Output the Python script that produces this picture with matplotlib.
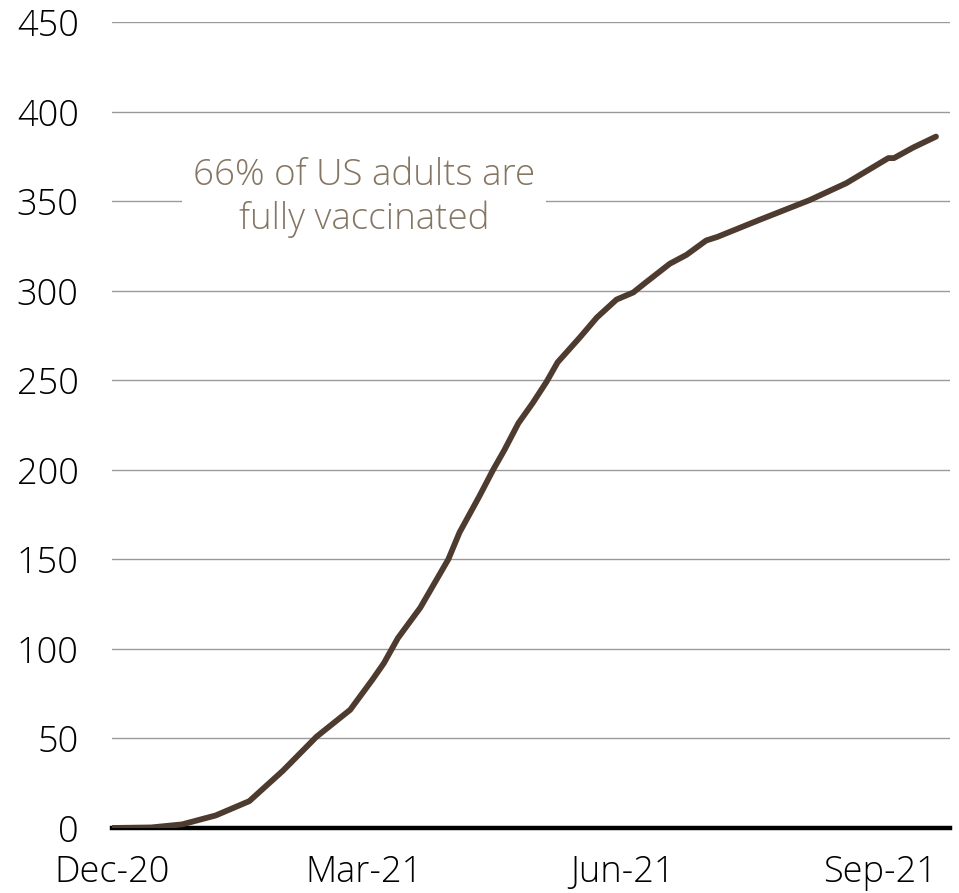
import matplotlib
matplotlib.use("Agg")
import matplotlib.pyplot as plt
import matplotlib.dates as mdates
import pandas as pd

plt.rcParams["font.family"] = ["Open Sans", "DejaVu Sans"]
plt.rcParams["font.weight"] = "light"

# Cumulative vaccine doses administered in the US (millions)
dates = [
    "2020-12-14", "2020-12-28", "2021-01-08", "2021-01-14", "2021-01-20",
    "2021-02-01", "2021-02-13", "2021-02-25", "2021-03-09", "2021-03-17",
    "2021-03-21", "2021-03-26", "2021-04-03", "2021-04-13", "2021-04-17",
    "2021-04-24", "2021-04-29", "2021-05-03", "2021-05-08", "2021-05-13",
    "2021-05-18", "2021-05-22", "2021-05-30", "2021-06-05", "2021-06-12",
    "2021-06-18", "2021-06-22", "2021-07-01", "2021-07-07", "2021-07-14",
    "2021-07-18", "2021-08-02", "2021-08-20", "2021-09-02", "2021-09-17",
    "2021-09-19", "2021-09-26", "2021-10-04",
]
doses = [
    0, 0.3, 2, 4.5, 7,
    15, 32, 51, 66, 83,
    92, 106, 123, 150, 165,
    185, 200, 211, 226, 237,
    249, 260, 274, 285, 295,
    299, 304, 315, 320, 328,
    330, 339.5, 350.6, 360, 374,
    374, 380, 386,
]
tick_dates = ["2020-12-14", "2021-03-14", "2021-06-14", "2021-09-14"]
y_ticks = [0, 50, 100, 150, 200, 250, 300, 350, 400, 450]
note = "66% of US adults are\nfully vaccinated"

x = pd.to_datetime(dates)
fig = plt.figure(figsize=(9.59, 8.93), dpi=100)
ax = fig.add_axes([0.1168, 0.0728, 0.8738, 0.9026])

ax.plot(x, doses, color="#4e3b30", lw=4.2, solid_capstyle="round",
        solid_joinstyle="round", zorder=4)

ax.set_ylim(0, 450)
ax.set_xlim(pd.Timestamp("2020-12-14"), pd.Timestamp("2021-10-09"))
ax.set_yticks(y_ticks)
ax.set_xticks(pd.to_datetime(tick_dates))
ax.xaxis.set_major_formatter(mdates.DateFormatter("%b-%y"))

ax.grid(axis="y", color="#9a9a9a", lw=1.0)
ax.set_axisbelow(True)
for s in ["top", "right", "left"]:
    ax.spines[s].set_visible(False)
ax.spines["bottom"].set_color("black")
ax.spines["bottom"].set_linewidth(3.2)
ax.spines["bottom"].set_zorder(3)
ax.tick_params(axis="both", length=0, labelsize=26, colors="black")
ax.tick_params(axis="y", pad=24)
ax.tick_params(axis="x", pad=19)

ax.text(pd.Timestamp("2021-03-14"), 352, note, ha="center", va="center",
        fontsize=26.5, color="#857563", linespacing=1.2, zorder=5,
        bbox=dict(facecolor="white", edgecolor="none", pad=8))

fig.savefig("out.png", dpi=100)
